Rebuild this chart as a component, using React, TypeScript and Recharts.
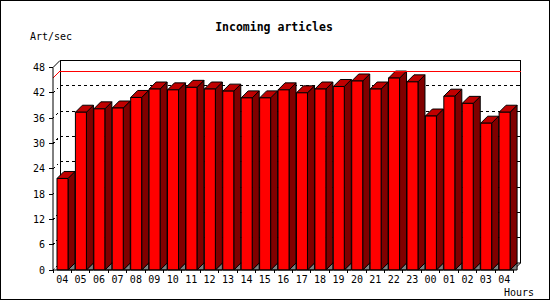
import { BarChart, Bar, XAxis, YAxis, CartesianGrid, ReferenceLine } from 'recharts';

const HOURS = ['04', '05', '06', '07', '08', '09', '10', '11', '12', '13', '14', '15', '16', '17', '18', '19', '20', '21', '22', '23', '00', '01', '02', '03', '04'];
const RATES = [21.7, 37.4, 38.2, 38.4, 40.9, 42.9, 42.7, 43.3, 42.9, 42.4, 40.8, 40.8, 42.7, 42.0, 42.9, 43.5, 44.8, 42.9, 45.5, 44.6, 36.5, 41.2, 39.5, 34.8, 37.4];
const Y_TICKS = [0, 6, 12, 18, 24, 30, 36, 42, 48];

const W = 550;
const H = 300;
const MARGIN = { top: 67.5, right: 36.5, left: 13, bottom: 0 };
const Y_AXIS_W = 40;
const X_AXIS_H = 30;
const PLOT_LEFT = MARGIN.left + Y_AXIS_W;
const PLOT_RIGHT = W - MARGIN.right;
const PLOT_TOP = MARGIN.top;
const PLOT_BOTTOM = H - MARGIN.bottom - X_AXIS_H;
const STEP = (PLOT_RIGHT - PLOT_LEFT) / HOURS.length;
const DEPTH = 7;
const FONT = '"DejaVu Sans Mono", monospace';

const data = HOURS.map((hour, i) => ({ hour, rate: RATES[i] }));
const peak = Math.max(...RATES);

function Bar3D(props: any) {
    const { x, y, width, height } = props;
    if (height == null || height <= 0) return null;
    const d = DEPTH;
    const r = x + width;
    const b = y + height;
    return (
        <g stroke="#000" strokeWidth={1} strokeLinejoin="round">
            <polygon points={`${r},${b} ${r + d},${b - d} ${r + d},${b}`} fill="#808080" />
            <polygon points={`${r},${y} ${r + d},${y - d} ${r + d},${b - d} ${r},${b}`} fill="#800000" />
            <polygon points={`${x},${y} ${x + d},${y - d} ${r + d},${y - d} ${r},${y}`} fill="#c00000" />
            <rect x={x} y={y} width={width} height={height} fill="#ff0000" />
        </g>
    );
}

function gridLine(p: any) {
    const { x1, x2, y1 } = p;
    const top = p.y ?? PLOT_TOP;
    const bottom = top + (p.height ?? PLOT_BOTTOM - PLOT_TOP);
    const d = DEPTH;
    const isTop = Math.abs(y1 - top) < 0.5;
    const isBottom = Math.abs(y1 - bottom) < 0.5;
    const key = p.key ?? `g-${p.index}`;
    if (isTop) {
        return (
            <g key={key} stroke="#000" strokeWidth={1}>
                <line x1={x1} y1={y1} x2={x1 + d} y2={y1 - d} />
                <line x1={x1 + d} y1={y1 - d} x2={x2 + d} y2={y1 - d} shapeRendering="crispEdges" />
            </g>
        );
    }
    if (isBottom) {
        return (
            <g key={key} stroke="#000" strokeWidth={1}>
                <line x1={x1 + d} y1={top - d} x2={x1 + d} y2={y1 - d} shapeRendering="crispEdges" />
                <line x1={x2 + d} y1={top - d} x2={x2 + d} y2={y1 - d} shapeRendering="crispEdges" />
                <line x1={x1 + d} y1={y1 - d} x2={x2 + d} y2={y1 - d} />
                <line x1={x2 + d} y1={y1 - d} x2={x2} y2={y1} />
                <line x1={x1} y1={y1} x2={x1 + d} y2={y1 - d} strokeDasharray="2 2" />
            </g>
        );
    }
    return (
        <g key={key} stroke="#000" strokeWidth={1} shapeRendering="crispEdges">
            <line x1={x1} y1={y1} x2={x1 + d} y2={y1 - d} strokeDasharray="2 3" />
            <line x1={x1 + d} y1={y1 - d} x2={x2 + d} y2={y1 - d} strokeDasharray="3 3" />
            <line x1={x2 + d - 4} y1={y1 - d} x2={x2 + d} y2={y1 - d} />
        </g>
    );
}

function PeakLine(p: any) {
    const { x1, x2, y1 } = p;
    const d = DEPTH;
    return (
        <g stroke="#ff0000" strokeWidth={1} shapeRendering="crispEdges">
            <line x1={x1} y1={y1} x2={x1 + d} y2={y1 - d} />
            <line x1={x1 + d} y1={y1 - d} x2={x2 + d} y2={y1 - d} />
        </g>
    );
}

function YTick({ x, y, payload }: any) {
    const ax = x + 8;
    return (
        <g>
            <line x1={ax - 4} y1={y} x2={ax} y2={y} stroke="#000" shapeRendering="crispEdges" />
            <text x={x} y={y} dy={3.6} textAnchor="end" fontFamily={FONT} fontSize={10} fill="#000">
                {payload.value}
            </text>
        </g>
    );
}

function XTick({ x, payload, index }: any) {
    const ay = PLOT_BOTTOM;
    return (
        <g>
            <line x1={x - STEP / 2} y1={ay} x2={x - STEP / 2} y2={ay + 3} stroke="#000" shapeRendering="crispEdges" />
            {index === HOURS.length - 1 && (
                <line x1={x + STEP / 2} y1={ay} x2={x + STEP / 2} y2={ay + 3} stroke="#000" shapeRendering="crispEdges" />
            )}
            <text x={x} y={ay + 13} textAnchor="middle" fontFamily={FONT} fontSize={10} fill="#000">
                {payload.value}
            </text>
        </g>
    );
}

export default function App() {
    return (
        <div style={{ position: 'absolute', left: 0, top: 0, width: W, height: H, background: '#fff' }}>
            <BarChart width={W} height={H} data={data} margin={MARGIN} barSize={11}>
                <CartesianGrid horizontal={gridLine} vertical={false} />
                <ReferenceLine y={peak} shape={PeakLine} />
                <XAxis
                    dataKey="hour"
                    height={X_AXIS_H}
                    interval={0}
                    axisLine={{ stroke: '#000' }}
                    tickLine={false}
                    tick={<XTick />}
                />
                <YAxis
                    width={Y_AXIS_W}
                    domain={[0, 48]}
                    ticks={Y_TICKS}
                    interval={0}
                    axisLine={{ stroke: '#000' }}
                    tickLine={false}
                    tick={<YTick />}
                />
                <Bar dataKey="rate" shape={<Bar3D />} isAnimationActive={false} />
            </BarChart>
            <svg width={W} height={H} style={{ position: 'absolute', left: 0, top: 0, pointerEvents: 'none' }}>
                <text x={274} y={30.5} textAnchor="middle" fontFamily={FONT} fontSize={11.5} fontWeight="bold" fill="#000">
                    Incoming articles
                </text>
                <text x={30} y={40} fontFamily={FONT} fontSize={10} fill="#000">Art/sec</text>
                <text x={504} y={295.5} fontFamily={FONT} fontSize={10} fill="#000">Hours</text>
                <rect x={0.5} y={0.5} width={W - 1} height={H - 1} fill="none" stroke="#000" />
            </svg>
        </div>
    );
}
